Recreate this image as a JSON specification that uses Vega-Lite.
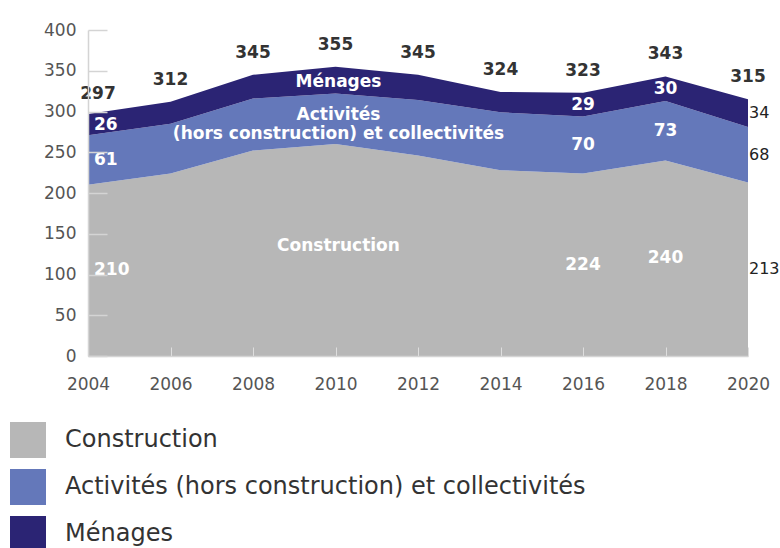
{
  "$schema": "https://vega.github.io/schema/vega-lite/v6.json",
  "width": 660,
  "height": 326,
  "autosize": {"type": "none"},
  "padding": {"left": 88, "top": 30, "right": 32, "bottom": 192},
  "background": "white",
  "config": {
    "view": {"stroke": null},
    "font": "DejaVu Sans",
    "text": {"lineBreak": "\n"}
  },
  "datasets": {
    "emissions": [
      {"annee": 2004, "categorie": "Construction", "ordre": 1, "valeur": 210},
      {"annee": 2006, "categorie": "Construction", "ordre": 1, "valeur": 224},
      {"annee": 2008, "categorie": "Construction", "ordre": 1, "valeur": 252},
      {"annee": 2010, "categorie": "Construction", "ordre": 1, "valeur": 260},
      {"annee": 2012, "categorie": "Construction", "ordre": 1, "valeur": 246},
      {"annee": 2014, "categorie": "Construction", "ordre": 1, "valeur": 228},
      {"annee": 2016, "categorie": "Construction", "ordre": 1, "valeur": 224},
      {"annee": 2018, "categorie": "Construction", "ordre": 1, "valeur": 240},
      {"annee": 2020, "categorie": "Construction", "ordre": 1, "valeur": 213},
      {"annee": 2004, "categorie": "Activités (hors construction) et collectivités", "ordre": 2, "valeur": 61},
      {"annee": 2006, "categorie": "Activités (hors construction) et collectivités", "ordre": 2, "valeur": 61},
      {"annee": 2008, "categorie": "Activités (hors construction) et collectivités", "ordre": 2, "valeur": 64},
      {"annee": 2010, "categorie": "Activités (hors construction) et collectivités", "ordre": 2, "valeur": 62},
      {"annee": 2012, "categorie": "Activités (hors construction) et collectivités", "ordre": 2, "valeur": 68},
      {"annee": 2014, "categorie": "Activités (hors construction) et collectivités", "ordre": 2, "valeur": 71},
      {"annee": 2016, "categorie": "Activités (hors construction) et collectivités", "ordre": 2, "valeur": 70},
      {"annee": 2018, "categorie": "Activités (hors construction) et collectivités", "ordre": 2, "valeur": 73},
      {"annee": 2020, "categorie": "Activités (hors construction) et collectivités", "ordre": 2, "valeur": 68},
      {"annee": 2004, "categorie": "Ménages", "ordre": 3, "valeur": 26},
      {"annee": 2006, "categorie": "Ménages", "ordre": 3, "valeur": 27},
      {"annee": 2008, "categorie": "Ménages", "ordre": 3, "valeur": 29},
      {"annee": 2010, "categorie": "Ménages", "ordre": 3, "valeur": 33},
      {"annee": 2012, "categorie": "Ménages", "ordre": 3, "valeur": 31},
      {"annee": 2014, "categorie": "Ménages", "ordre": 3, "valeur": 25},
      {"annee": 2016, "categorie": "Ménages", "ordre": 3, "valeur": 29},
      {"annee": 2018, "categorie": "Ménages", "ordre": 3, "valeur": 30},
      {"annee": 2020, "categorie": "Ménages", "ordre": 3, "valeur": 34}
    ],
    "etiquettes": [
      {"categorie": "Construction", "etiquette": "Construction"},
      {"categorie": "Activités (hors construction) et collectivités", "etiquette": "Activités\n(hors construction) et collectivités"},
      {"categorie": "Ménages", "etiquette": "Ménages"}
    ]
  },
  "data": {"name": "emissions"},
  "encoding": {
    "x": {
      "field": "annee",
      "type": "quantitative",
      "scale": {"domain": [2004, 2020], "nice": false, "zero": false},
      "axis": {
        "title": null,
        "values": [2004, 2006, 2008, 2010, 2012, 2014, 2016, 2018, 2020],
        "format": "d",
        "grid": false,
        "domainColor": "#d4d4d4",
        "domainWidth": 1.5,
        "tickColor": "#dedede",
        "tickSize": -9,
        "labelPadding": 29,
        "labelFontSize": 17,
        "labelColor": "#555555",
        "labelFlush": false,
        "zindex": 1
      }
    }
  },
  "layer": [
    {
      "mark": {"type": "area", "opacity": 1},
      "encoding": {
        "y": {
          "field": "valeur",
          "type": "quantitative",
          "stack": "zero",
          "scale": {"domain": [0, 400], "nice": false},
          "axis": {
            "title": null,
            "values": [0, 50, 100, 150, 200, 250, 300, 350, 400],
            "grid": false,
            "domainColor": "#d4d4d4",
            "domainWidth": 1.5,
            "tickColor": "#d4d4d4",
            "tickWidth": 1.5,
            "tickSize": -19,
            "labelPadding": 31,
            "labelFontSize": 17,
            "labelColor": "#555555",
            "zindex": 1
          }
        },
        "color": {
          "field": "categorie",
          "type": "nominal",
          "scale": {
            "domain": ["Construction", "Activités (hors construction) et collectivités", "Ménages"],
            "range": ["#b7b7b7", "#6478ba", "#2b2474"]
          },
          "legend": {
            "title": null,
            "orient": "none",
            "legendX": -78,
            "legendY": 392,
            "direction": "vertical",
            "padding": 0,
            "symbolType": "square",
            "symbolSize": 1296,
            "symbolStrokeWidth": 0,
            "symbolOpacity": 1,
            "labelFontSize": 24,
            "labelColor": "#333333",
            "labelOffset": 19,
            "labelLimit": 0,
            "rowPadding": 11
          }
        },
        "order": {"field": "ordre", "type": "quantitative"}
      }
    },
    {
      "transform": [
        {"aggregate": [{"op": "sum", "field": "valeur", "as": "total"}], "groupby": ["annee"]},
        {"filter": "datum.annee != 2004"}
      ],
      "mark": {"type": "text", "dy": -22, "fontSize": 17, "fontWeight": "bold", "color": "#333333", "baseline": "middle"},
      "encoding": {
        "y": {"field": "total", "type": "quantitative"},
        "text": {"field": "total", "type": "quantitative"}
      }
    },
    {
      "transform": [
        {"aggregate": [{"op": "sum", "field": "valeur", "as": "total"}], "groupby": ["annee"]},
        {"filter": "datum.annee == 2004"}
      ],
      "mark": {"type": "text", "dy": -20, "dx": 10, "fontSize": 17, "fontWeight": "bold", "color": "#333333", "baseline": "middle"},
      "encoding": {
        "y": {"field": "total", "type": "quantitative"},
        "text": {"field": "total", "type": "quantitative"}
      }
    },
    {
      "transform": [{"filter": "datum.annee == 2004"}],
      "mark": {"type": "text", "align": "left", "dx": 6, "fontSize": 17, "fontWeight": "bold", "color": "white", "baseline": "middle"},
      "encoding": {
        "y": {"field": "valeur", "type": "quantitative", "stack": "zero", "bandPosition": 0.5},
        "detail": {"field": "categorie", "type": "nominal"},
        "order": {"field": "ordre", "type": "quantitative"},
        "text": {"field": "valeur", "type": "quantitative"}
      }
    },
    {
      "transform": [{"filter": "datum.annee == 2016 || datum.annee == 2018"}],
      "mark": {"type": "text", "align": "center", "fontSize": 17, "fontWeight": "bold", "color": "white", "baseline": "middle"},
      "encoding": {
        "y": {"field": "valeur", "type": "quantitative", "stack": "zero", "bandPosition": 0.5},
        "detail": {"field": "categorie", "type": "nominal"},
        "order": {"field": "ordre", "type": "quantitative"},
        "text": {"field": "valeur", "type": "quantitative"}
      }
    },
    {
      "transform": [{"filter": "datum.annee == 2020"}],
      "mark": {"type": "text", "align": "left", "dx": 1, "fontSize": 16, "fontWeight": "normal", "color": "#222222", "baseline": "middle"},
      "encoding": {
        "y": {"field": "valeur", "type": "quantitative", "stack": "zero", "bandPosition": 0.5},
        "detail": {"field": "categorie", "type": "nominal"},
        "order": {"field": "ordre", "type": "quantitative"},
        "text": {"field": "valeur", "type": "quantitative"}
      }
    },
    {
      "transform": [
        {"filter": "datum.annee == 2010"},
        {"lookup": "categorie", "from": {"data": {"name": "etiquettes"}, "key": "categorie", "fields": ["etiquette"]}}
      ],
      "mark": {"type": "text", "align": "center", "fontSize": 17, "fontWeight": "bold", "color": "white", "baseline": "middle", "dx": 3, "dy": 2},
      "encoding": {
        "y": {"field": "valeur", "type": "quantitative", "stack": "zero", "bandPosition": 0.5},
        "detail": {"field": "categorie", "type": "nominal"},
        "order": {"field": "ordre", "type": "quantitative"},
        "text": {"field": "etiquette", "type": "nominal"},
        "opacity": {"condition": {"test": "datum.categorie == 'Ménages'", "value": 1}, "value": 0}
      }
    },
    {
      "transform": [
        {"filter": "datum.annee == 2010"},
        {"lookup": "categorie", "from": {"data": {"name": "etiquettes"}, "key": "categorie", "fields": ["etiquette"]}}
      ],
      "mark": {"type": "text", "align": "center", "fontSize": 17, "fontWeight": "bold", "color": "white", "baseline": "middle", "lineHeight": 19, "dx": 3, "dy": -4},
      "encoding": {
        "y": {"field": "valeur", "type": "quantitative", "stack": "zero", "bandPosition": 0.5},
        "detail": {"field": "categorie", "type": "nominal"},
        "order": {"field": "ordre", "type": "quantitative"},
        "text": {"field": "etiquette", "type": "nominal"},
        "opacity": {"condition": {"test": "datum.categorie != 'Ménages'", "value": 1}, "value": 0}
      }
    }
  ]
}
